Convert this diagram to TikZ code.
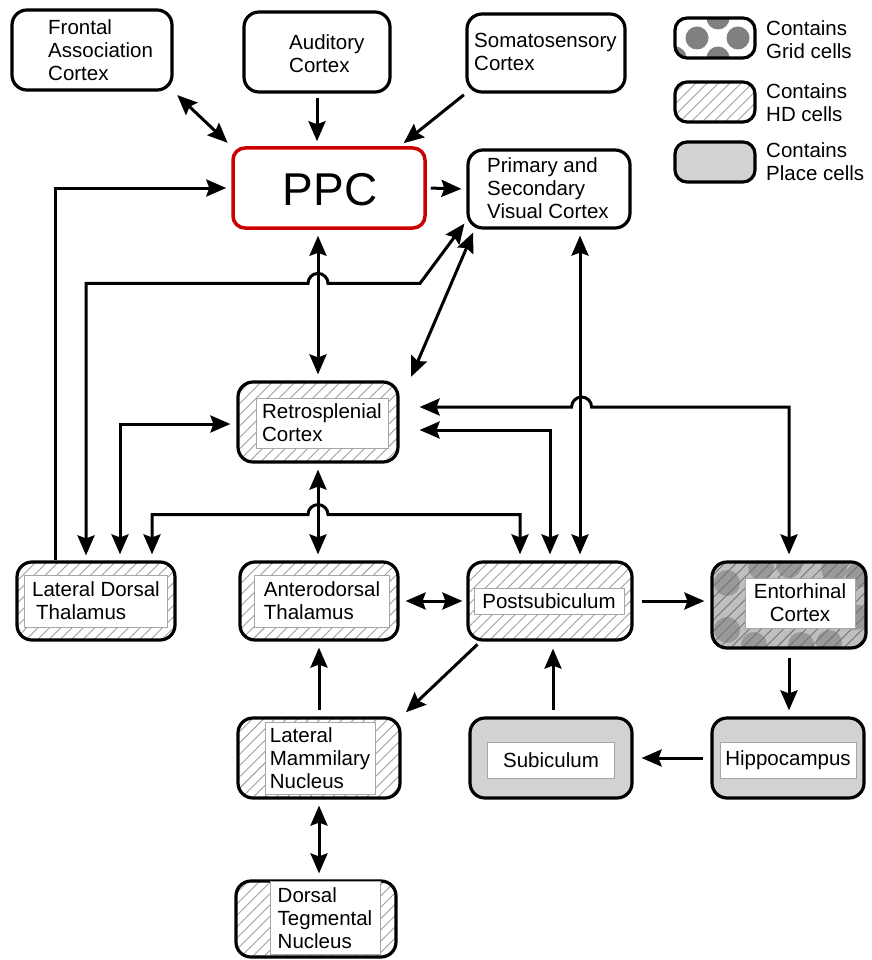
\documentclass[tikz,border=0pt]{standalone}
\usepackage{fontspec}
\setmainfont{Liberation Sans}
\usetikzlibrary{arrows.meta,patterns.meta,calc}
\tikzset{
  arr/.style={-{Stealth[length=20pt,width=17pt,inset=3pt]}},
  darr/.style={{Stealth[length=20pt,width=17pt,inset=3pt]}-{Stealth[length=20pt,width=17pt,inset=3pt]}},
}
\begin{document}
\begin{tikzpicture}[x=1pt,y=-1pt,
  every node/.style={font=\fontsize{20.5}{23}\selectfont},
  sz/.style 2 args={minimum width=#1pt, minimum height=#2pt},
  box/.style={draw, line width=3.2pt, rounded corners=15pt, fill=white, inner sep=0pt},
  hd/.style={box, pattern={Lines[angle=45,distance=8pt,line width=0.9pt]}, pattern color=gray!75},
  place/.style={box, fill=gray!35},
  inbox/.style={draw=gray!70, line width=1pt, fill=white, inner sep=0pt, align=left},
  lbl/.style={align=left, inner sep=0pt, anchor=west},
  con/.style={line width=3pt},
]
\useasboundingbox[fill=white] (0,0) rectangle (871,960);

% top row
\node[box, sz={160}{80}] (fac) at (92,50) {};
\node[lbl] (facT) at (48,50) {Frontal\\Association\\Cortex};
\node[box, sz={146}{80}] (aud) at (317,52) {};
\node[lbl] (audT) at (289,54) {Auditory\\Cortex};
\node[box, sz={158}{78}] (som) at (546,53) {};
\node[lbl] (somT) at (474,52) {Somatosensory\\Cortex};

\node[box, draw=red!80!black, line width=3.5pt, rounded corners=12pt, sz={192}{80}] (ppc) at (329,188) {};
\node[font=\fontsize{46}{50}\selectfont, inner sep=0pt] (ppcT) at (330,190) {PPC};
\node[box, sz={162}{78}] (vis) at (549,189) {};
\node[lbl] (visT) at (487,188) {Primary and\\Secondary\\Visual Cortex};

% legend
\node[box, sz={80}{40}, rounded corners=12pt, path picture={
  \foreach \dx/\dy in {-18/0, 23/0, 3/20, 3/-20, -40/-20}
    \fill[black!50] ([shift={(\dx pt,\dy pt)}]path picture bounding box.center) circle (11.5pt);
  }] (lgrid) at (715,38) {};
\node[lbl] (lg1) at (766,40) {Contains\\Grid cells};
\node[hd, sz={80}{40}, rounded corners=12pt] (lhd) at (715,102) {};
\node[lbl] (lg2) at (766,103) {Contains\\HD cells};
\node[place, sz={80}{40}, rounded corners=12pt] (lpl) at (715,162) {};
\node[lbl] (lg3) at (766,162) {Contains\\Place cells};

% middle
\node[hd, sz={160}{80}] (rsc) at (318,422) {};
\node[inbox, sz={132}{50}] (rscT) at (322,423) {Retrosplenial\\Cortex};

\node[hd, sz={158}{78}] (ldt) at (96,601) {};
\node[inbox, sz={143}{52}] (ldtT) at (96,601) {Lateral Dorsal\\\hspace*{4pt}Thalamus};
\node[hd, sz={158}{78}] (adt) at (319,601) {};
\node[inbox, sz={135}{52}] (adtT) at (322,601) {Anterodorsal\\Thalamus};
\node[hd, sz={164}{78}] (pos) at (550,601) {};
\node[inbox, sz={150}{26}] (posT) at (549,601) {Postsubiculum};
\node[box, sz={154}{86}, fill=gray!50, path picture={
  \foreach \dx/\dy in {-62/-25, -62/22, -28/38, 12/-40, 45/36, 66/-12, -35/-40, 70/30, 40/-38, 0/40}
    \fill[gray!80] ([shift={(\dx pt,\dy pt)}]path picture bounding box.center) circle (13pt);
  \fill[pattern={Lines[angle=45,distance=8pt,line width=0.9pt]}, pattern color=black!55]
    (path picture bounding box.south west) rectangle (path picture bounding box.north east);
  }] (ent) at (789,605) {};
\node[inbox, sz={110}{50}, align=center] (entT) at (800,603) {Entorhinal\\Cortex};

% lower
\node[hd, sz={162}{80}] (lmn) at (319,758) {};
\node[inbox, sz={110}{72}] (lmnT) at (320,758) {Lateral\\Mammilary\\Nucleus};
\node[place, sz={162}{80}] (sub) at (551,758) {};
\node[inbox, sz={127}{36}] (subT) at (551,760) {Subiculum};
\node[place, sz={152}{80}] (hip) at (788,758) {};
\node[inbox, sz={136}{36}] (hipT) at (788,760) {Hippocampus};
\node[hd, sz={160}{76}] (dtn) at (316,919) {};
\node[inbox, sz={110}{73}] (dtnT) at (325,918) {Dorsal\\Tegmental\\Nucleus};

% connectors
\draw[con,darr,shorten <=5pt,shorten >=5pt] (fac.south east) -- (ppc.north west);
\draw[con,arr,shorten <=4pt,shorten >=5pt] (aud.south) -- (aud.south |- ppc.north);
\draw[con,arr,shorten <=2pt,shorten >=5pt] (som.south west) -- ([xshift=-27pt]ppc.north east);
\draw[con,arr,shorten <=4pt,shorten >=5pt] (ppc.east) -- (vis.west);

\draw[con,arr,shorten >=1pt] ([xshift=-41pt]ldt.north) |- ([xshift=-4pt]ppc.west);
\draw[con,darr,shorten <=5pt] ([xshift=-10pt]ldt.north) |- ([shift={(-10pt,97pt)}]rsc.north)
   arc[start angle=180,end angle=0,radius=10pt] -- ++(92,0) -- ([shift={(-2pt,6pt)}]vis.south west);
\draw[con,darr,shorten <=6pt,shorten >=6pt] (rsc.north |- ppc.south) -- (rsc.north);
\draw[con,darr,shorten <=3pt,shorten >=4pt] ([xshift=8pt]vis.south west) -- ([xshift=10pt]rsc.north east);
\draw[con,darr,shorten <=6pt,shorten >=6pt] ([xshift=31pt]vis.south) -- ([xshift=30pt]pos.north);

\draw[con,darr,shorten >=6pt] ([shift={(20pt,15pt)}]rsc.east) -- ++(152,0)
   arc[start angle=180,end angle=0,radius=10pt] -| (ent.north);
\draw[con,darr,shorten >=6pt] ([shift={(20pt,-8pt)}]rsc.east) -| (pos.north);
\draw[con,darr,shorten <=6pt,shorten >=6pt] (rsc.south) -- (rsc.south |- adt.north);
\draw[con,darr,shorten <=6pt,shorten >=6pt] ([xshift=56pt]ldt.north) |- ([shift={(-10pt,-51pt)}]rsc.south)
   arc[start angle=180,end angle=0,radius=10pt] -| ([xshift=-30pt]pos.north);
\draw[con,darr,shorten >=6pt] ([shift={(-6pt,-2pt)}]rsc.west) -| ([xshift=24pt]ldt.north);

\draw[con,darr,shorten <=6pt,shorten >=4pt] (adt.east) -- (pos.west);
\draw[con,arr,shorten <=8pt,shorten >=6pt] (pos.east) -- (pos.east -| ent.west);
\draw[con,arr,shorten <=8pt,shorten >=6pt] (ent.south) -- (ent.south |- hip.north);
\draw[con,arr,shorten <=7pt,shorten >=8pt] (hip.west) -- (sub.east);
\draw[con,arr,shorten <=6pt,shorten >=7pt] ([xshift=2pt]sub.north) -- ([xshift=2pt]sub.north |- pos.south);
\draw[con,arr,shorten <=4pt,shorten >=6pt] ([xshift=14pt]pos.south west) -- (lmn.north east);
\draw[con,arr,shorten <=6pt,shorten >=6pt] (lmn.north) -- (lmn.north |- adt.south);
\draw[con,darr,shorten <=6pt,shorten >=6pt] (lmn.south) -- (lmn.south |- dtn.north);
\end{tikzpicture}
\end{document}
